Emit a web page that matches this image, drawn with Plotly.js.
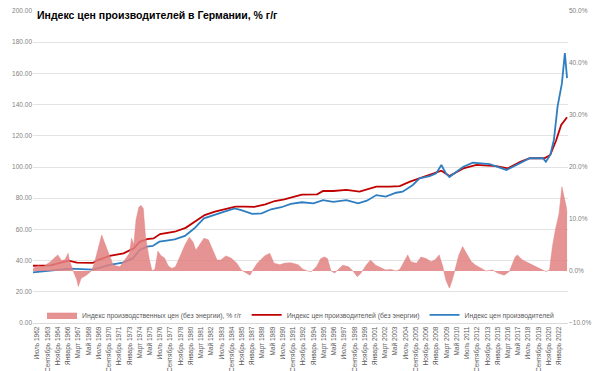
<!DOCTYPE html>
<html>
<head>
<meta charset="utf-8">
<script src="https://cdn.plot.ly/plotly-3.0.1.min.js"></script>
<style>html,body{margin:0;padding:0;background:#fff;}#chart{width:596px;height:371px;}</style>
</head>
<body>
<div id="chart"></div>
<script>
// Индекс цен производителей (без энергии) — left axis
const redDates = ["1962-01","1964-01","1966-02","1967-01","1968-11","1969-05","1970-10","1972-05","1973-07","1974-03","1975-01","1975-10","1976-07","1977-07","1978-03","1979-06","1980-07","1981-08","1982-10","1983-11","1985-02","1986-03","1987-04","1988-07","1989-08","1990-09","1991-11","1992-09","1994-06","1995-02","1996-04","1997-10","1999-04","2001-03","2002-09","2003-11","2005-01","2006-02","2007-04","2008-08","2009-07","2011-02","2012-08","2014-11","2016-03","2017-08","2018-09","2020-05","2021-01","2021-09","2022-04","2022-12"];
const redValues = [36.7,37.0,40.0,38.7,38.5,40.2,43.0,44.7,47.9,52.0,53.8,54.2,57.0,58.1,58.5,61.0,64.9,69.2,71.4,72.9,74.6,74.6,74.4,76.1,78.2,79.3,81.0,82.3,82.5,84.6,84.6,85.3,84.2,87.4,87.4,87.8,90.6,92.7,94.9,97.6,94.2,99.1,101.3,100.6,99.1,103.4,105.6,105.6,107.7,117.0,127.0,131.9];

// Индекс цен производителей — left axis
const blueDates = ["1962-01","1966-04","1968-11","1970-10","1972-04","1973-06","1974-03","1975-01","1975-09","1976-06","1977-06","1978-03","1979-05","1980-06","1981-07","1982-10","1983-11","1985-01","1985-10","1987-01","1988-02","1989-03","1990-05","1991-06","1992-09","1994-01","1995-02","1996-04","1997-10","1999-02","2000-02","2001-03","2002-04","2003-06","2004-03","2005-05","2006-02","2007-04","2008-01","2008-08","2009-02","2009-07","2011-02","2012-03","2014-02","2016-01","2017-08","2018-09","2020-03","2020-07","2021-01","2021-06","2021-11","2022-05","2022-09","2022-11","2022-12"];
const blueValues = [32.5,34.8,34.2,37.2,38.7,41.5,46.8,48.9,49.4,52.1,53.0,53.6,55.8,60.7,67.1,69.2,71.4,73.5,72.4,69.9,70.3,72.9,74.2,76.3,77.4,76.7,78.8,77.6,78.8,76.7,78.4,82.0,81.0,83.5,84.2,88.5,92.7,94.2,96.0,101.3,96.0,93.6,100.2,102.8,101.9,98.1,102.8,105.6,105.6,103.4,107.7,117.3,138.7,153.6,173.0,161.0,157.0];

// Индекс производственных цен (без энергии), % г/г — right axis
const yoyDates = ["1962-01","1962-08","1963-03","1964-01","1964-07","1964-11","1965-04","1965-09","1966-01","1966-03","1966-08","1967-01","1967-03","1967-07","1968-02","1968-09","1969-01","1969-06","1969-11","1970-07","1971-03","1971-12","1972-06","1973-01","1973-04","1973-07","1973-10","1974-02","1974-05","1974-08","1974-11","1975-04","1975-08","1975-12","1976-04","1976-08","1977-01","1977-06","1977-11","1978-04","1978-10","1979-05","1979-11","1980-04","1980-08","1981-01","1981-07","1982-01","1982-07","1983-01","1983-06","1984-01","1984-08","1985-04","1985-10","1986-05","1986-10","1987-02","1987-08","1988-06","1989-01","1989-07","1990-03","1990-09","1991-06","1992-04","1992-10","1993-05","1993-10","1994-05","1994-11","1995-04","1995-08","1996-01","1996-06","1996-10","1997-05","1998-01","1998-07","1999-01","1999-06","2000-01","2000-07","2001-02","2001-10","2002-04","2002-11","2003-06","2003-11","2004-05","2004-10","2005-02","2005-10","2006-04","2006-11","2007-06","2007-11","2008-05","2008-10","2009-02","2009-07","2009-11","2010-04","2010-08","2011-01","2011-06","2012-01","2012-07","2013-02","2013-09","2014-06","2015-01","2015-10","2016-05","2017-01","2017-04","2017-11","2018-08","2019-05","2020-02","2020-07","2020-12","2021-04","2021-08","2022-01","2022-05","2022-09","2022-11","2022-12"];
const yoyValues = [0.5,1.0,0.8,1.8,2.6,3.1,2.0,2.2,3.4,2.0,0.0,-1.7,-3.0,-1.4,-0.8,0.0,1.5,4.0,6.9,4.0,1.1,0.8,2.1,3.4,6.3,5.0,9.8,12.3,12.6,12.0,6.6,2.4,0.0,0.4,3.8,3.0,2.5,1.0,0.5,0.8,2.7,5.0,6.5,5.6,4.0,5.0,6.3,6.0,4.0,2.1,2.1,2.9,2.5,1.5,0.2,-0.3,-0.8,0.2,1.5,2.9,3.4,1.5,1.2,1.5,1.6,1.2,0.4,0.0,-0.1,0.8,2.4,2.7,2.4,0.0,-0.4,0.2,1.1,0.8,0.0,-1.1,-0.4,1.1,2.1,1.1,0.5,0.2,0.3,0.0,0.3,1.8,3.1,1.8,1.5,2.7,2.4,1.8,2.1,3.1,0.8,-1.7,-3.3,-1.7,0.8,3.1,4.7,3.4,1.8,1.1,0.5,0.0,0.2,-0.4,-0.8,-0.1,2.7,3.1,2.1,1.5,0.8,0.2,-0.1,0.2,4.7,7.9,11.0,16.2,13.6,12.3,11.0];

// x-axis tick labels (every 14 months)
const tickDates = ["1962-07","1963-09","1964-11","1966-01","1967-03","1968-05","1969-07","1970-09","1971-11","1973-01","1974-03","1975-05","1976-07","1977-09","1978-11","1980-01","1981-03","1982-05","1983-07","1984-09","1985-11","1987-01","1988-03","1989-05","1990-07","1991-09","1992-11","1994-01","1995-03","1996-05","1997-07","1998-09","1999-11","2001-01","2002-03","2003-05","2004-07","2005-09","2006-11","2008-01","2009-03","2010-05","2011-07","2012-09","2013-11","2015-01","2016-03","2017-05","2018-07","2019-09","2020-11","2022-01"];
const tickLabels = ["Июль 1962","Сентябрь 1963","Ноябрь 1964","Январь 1966","Март 1967","Май 1968","Июль 1969","Сентябрь 1970","Ноябрь 1971","Январь 1973","Март 1974","Май 1975","Июль 1976","Сентябрь 1977","Ноябрь 1978","Январь 1980","Март 1981","Май 1982","Июль 1983","Сентябрь 1984","Ноябрь 1985","Январь 1987","Март 1988","Май 1989","Июль 1990","Сентябрь 1991","Ноябрь 1992","Январь 1994","Март 1995","Май 1996","Июль 1997","Сентябрь 1998","Ноябрь 1999","Январь 2001","Март 2002","Май 2003","Июль 2004","Сентябрь 2005","Ноябрь 2006","Январь 2008","Март 2009","Май 2010","Июль 2011","Сентябрь 2012","Ноябрь 2013","Январь 2015","Март 2016","Май 2017","Июль 2018","Сентябрь 2019","Ноябрь 2020","Январь 2022"];

const seriesNames = ["Индекс производственных цен (без энергии), % г/г","Индекс цен производителей (без энергии)","Индекс цен производителей"];
const titleText = "Индекс цен производителей в Германии, % г/г";

const FONT = "Liberation Sans, Arial, sans-serif";
const traces = [
  {x: yoyDates, y: yoyValues, name: seriesNames[0], type: "scatter", mode: "lines",
   yaxis: "y2", fill: "tozeroy", fillcolor: "rgba(226,128,128,0.85)",
   line: {width: 0.5, color: "rgba(226,128,128,0.9)"}},
  {x: redDates, y: redValues, name: seriesNames[1], type: "scatter", mode: "lines",
   line: {width: 1.8, color: "#C00000"}},
  {x: blueDates, y: blueValues, name: seriesNames[2], type: "scatter", mode: "lines",
   line: {width: 1.8, color: "#2E7EC1"}}
];

const layout = {
  width: 596, height: 371,
  margin: {l: 33, r: 28, t: 11, b: 48},
  paper_bgcolor: "#fff", plot_bgcolor: "#fff",
  font: {family: FONT, size: 7, color: "#595959"},
  title: {text: "<b>" + titleText + "</b>", x: 37/596, xanchor: "left", xref: "container",
          y: 1 - 15/371, yanchor: "middle", yref: "container",
          font: {family: FONT, size: 10.5, color: "#000"}},
  showlegend: true,
  legend: {orientation: "h", x: 0.5, xanchor: "center", y: 0.026, yanchor: "middle",
           font: {family: FONT, size: 6.8, color: "#595959"}, bgcolor: "rgba(0,0,0,0)",
           itemwidth: 30, tracegroupgap: 0, traceorder: "normal", borderwidth: 0},
  xaxis: {type: "date", range: ["1962-01-01", "2023-01-10"], tickmode: "array",
          tickvals: tickDates, ticktext: tickLabels, tickangle: -90,
          tickfont: {family: FONT, size: 6.5, color: "#595959"},
          showgrid: false, showline: true, linecolor: "#D9D9D9", linewidth: 1,
          ticks: "", zeroline: false, fixedrange: true},
  yaxis: {range: [0, 200], dtick: 20, tickformat: ".2f", showgrid: true,
          gridcolor: "#E3E3E3", gridwidth: 1, zeroline: false, showline: false,
          ticks: "", tickfont: {family: FONT, size: 6.5, color: "#7F7F7F"}},
  yaxis2: {range: [-10, 50], dtick: 10, tickformat: ".1f", ticksuffix: "%",
           overlaying: "y", side: "right", showgrid: false, zeroline: false,
           showline: false, ticks: "", tickfont: {family: FONT, size: 6.5, color: "#7F7F7F"}}
};

Plotly.newPlot("chart", traces, layout, {staticPlot: true, displayModeBar: false});
</script>
</body>
</html>
